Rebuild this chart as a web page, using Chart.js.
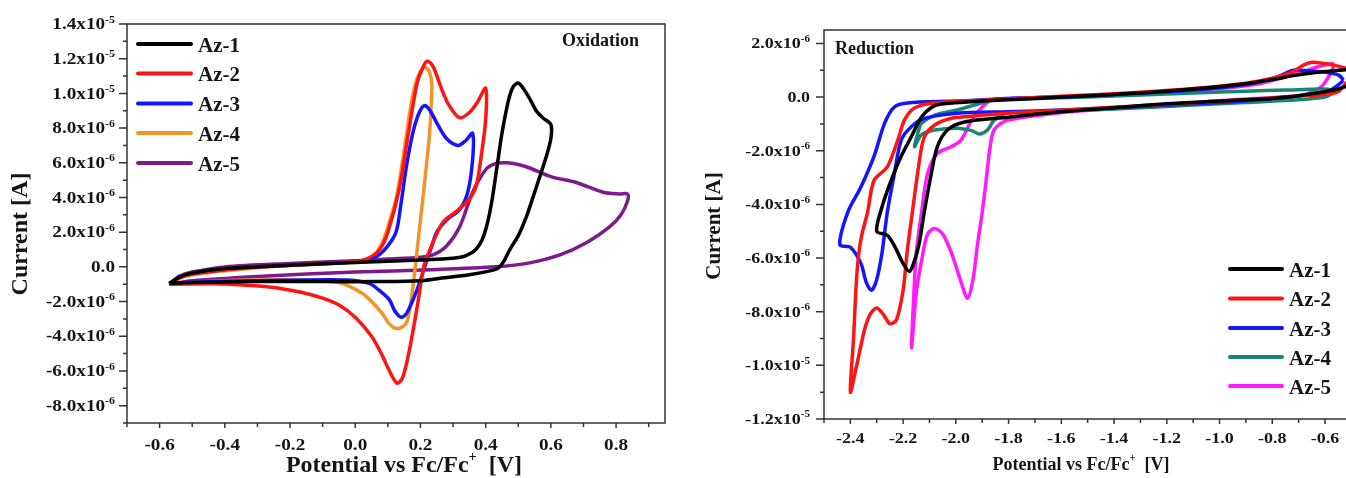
<!DOCTYPE html>
<html>
<head>
<meta charset="utf-8">
<script src="https://cdn.jsdelivr.net/npm/chart.js@4.4.1/dist/chart.umd.min.js"></script>
<style>
html, body { margin: 0; padding: 0; background: #fff; overflow: hidden; }
canvas { position: absolute; top: 0; }
#ox { left: 0; }
#red { left: 680px; }
</style>
</head>
<body>
<canvas id="ox" width="675" height="478"></canvas>
<canvas id="red" width="680" height="478"></canvas>
<script>
// current in µA (x10^-6 A), potential in V vs Fc/Fc+
const names = ['Az-1', 'Az-2', 'Az-3', 'Az-4', 'Az-5'];
const oxColors = ['#000000', '#ff1414', '#1414ff', '#f39425', '#7e1b8c'];
const redColors = ['#000000', '#ff1414', '#1414ff', '#1b8575', '#ff1aff'];

// oxidation scans
const oxAz1 = [[-0.57,-0.95],[-0.54,-0.6],[-0.5,-0.35],[-0.4,-0.1],[-0.2,0.1],[0,0.25],[0.2,0.4],[0.3,0.5],[0.34,0.65],[0.37,1.0],[0.39,1.6],[0.405,2.5],[0.42,3.9],[0.435,5.8],[0.45,7.7],[0.47,9.6],[0.485,10.4],[0.5,10.6],[0.515,10.3],[0.535,9.7],[0.555,9.0],[0.575,8.6],[0.6,8.2],[0.6,7.4],[0.585,6.3],[0.566,5.2],[0.545,4.0],[0.525,2.9],[0.5,1.8],[0.474,1.0],[0.455,0.3],[0.44,-0.05],[0.42,-0.2],[0.35,-0.45],[0.26,-0.65],[0.2,-0.8],[0.07,-0.85],[-0.1,-0.85],[-0.3,-0.85],[-0.5,-0.9],[-0.57,-0.95]];
const oxAz2 = [[-0.57,-1.0],[-0.54,-0.65],[-0.5,-0.4],[-0.4,-0.15],[-0.2,0.1],[0,0.3],[0.04,0.5],[0.075,1.0],[0.1,2.0],[0.135,4.5],[0.163,7.7],[0.19,10.6],[0.21,11.6],[0.222,11.85],[0.24,11.5],[0.26,10.5],[0.285,9.4],[0.32,8.6],[0.35,8.9],[0.375,9.5],[0.4,10.3],[0.4,8.5],[0.385,6.2],[0.37,4.6],[0.345,3.8],[0.31,3.2],[0.27,2.6],[0.245,1.7],[0.225,0.8],[0.21,0],[0.19,-2.3],[0.166,-4.8],[0.145,-6.4],[0.128,-6.7],[0.105,-6.0],[0.08,-5.0],[0.05,-4.0],[0,-2.9],[-0.05,-2.2],[-0.1,-1.8],[-0.17,-1.45],[-0.27,-1.15],[-0.43,-0.98],[-0.57,-1.0]];
const oxAz3 = [[-0.57,-0.95],[-0.54,-0.6],[-0.5,-0.4],[-0.3,0],[0,0.3],[0.06,0.55],[0.095,1.1],[0.125,2.0],[0.14,3.6],[0.157,5.8],[0.175,7.6],[0.19,8.6],[0.205,9.2],[0.215,9.3],[0.23,9.0],[0.25,8.3],[0.28,7.4],[0.315,7.0],[0.34,7.3],[0.36,7.7],[0.36,6.2],[0.345,4.3],[0.32,3.3],[0.28,2.7],[0.25,2.0],[0.235,1.2],[0.22,0.4],[0.19,-1.3],[0.157,-2.7],[0.14,-2.9],[0.12,-2.5],[0.105,-1.9],[0.07,-1.3],[0.043,-0.95],[-0.03,-0.75],[-0.3,-0.8],[-0.5,-0.88],[-0.57,-0.95]];
const oxAz4 = [[-0.57,-1.0],[-0.54,-0.65],[-0.5,-0.45],[-0.3,-0.05],[0,0.3],[0.05,0.5],[0.083,1.4],[0.105,2.6],[0.125,3.9],[0.14,5.5],[0.155,7.35],[0.168,9.0],[0.18,10.2],[0.195,11.1],[0.213,11.5],[0.228,11.2],[0.235,10.5],[0.232,9.0],[0.228,7.7],[0.218,5.8],[0.207,3.9],[0.19,1.0],[0.176,-1.3],[0.16,-3.1],[0.145,-3.45],[0.125,-3.55],[0.105,-3.3],[0.083,-2.7],[0.05,-2.0],[0.02,-1.5],[-0.05,-0.9],[-0.2,-0.75],[-0.4,-0.8],[-0.57,-1.0]];
const oxAz5 = [[-0.57,-1.0],[-0.54,-0.55],[-0.5,-0.3],[-0.4,0],[-0.2,0.2],[0,0.35],[0.1,0.45],[0.2,0.55],[0.24,0.7],[0.28,1.2],[0.32,2.3],[0.36,4.3],[0.4,5.6],[0.43,5.95],[0.465,6.0],[0.5,5.9],[0.535,5.7],[0.6,5.2],[0.68,4.85],[0.76,4.3],[0.81,4.2],[0.835,4.2],[0.835,3.8],[0.815,3.0],[0.78,2.3],[0.71,1.4],[0.63,0.7],[0.535,0.23],[0.43,0],[0.23,-0.17],[0,-0.3],[-0.3,-0.55],[-0.5,-0.8],[-0.57,-1.0]];

// reduction scans
const redAz1 = [[-0.48,0.8],[-0.5,0.5],[-0.55,0.3],[-0.6,0.2],[-0.7,0.05],[-0.8,-0.05],[-1.0,-0.15],[-1.2,-0.25],[-1.4,-0.4],[-1.6,-0.55],[-1.8,-0.75],[-1.967,-0.93],[-2.032,-1.23],[-2.07,-1.85],[-2.093,-2.85],[-2.12,-4.3],[-2.14,-5.5],[-2.157,-6.1],[-2.176,-6.5],[-2.2,-6.2],[-2.23,-5.6],[-2.26,-5.15],[-2.3,-5.0],[-2.28,-4.1],[-2.245,-3.1],[-2.207,-2.2],[-2.17,-1.5],[-2.13,-0.74],[-2.09,-0.37],[-2.055,-0.26],[-1.9,-0.15],[-1.7,-0.05],[-1.5,0.05],[-1.3,0.15],[-1.1,0.3],[-0.9,0.5],[-0.8,0.65],[-0.72,0.8],[-0.65,0.9],[-0.6,0.95],[-0.55,1.0],[-0.48,1.05]];
const redAz2 = [[-0.47,0.9],[-0.52,0.52],[-0.55,0.2],[-0.6,0.1],[-0.69,0.05],[-0.9,-0.1],[-1.07,-0.19],[-1.25,-0.3],[-1.45,-0.41],[-1.65,-0.52],[-1.83,-0.62],[-1.95,-0.72],[-2.02,-0.8],[-2.08,-1.04],[-2.12,-1.5],[-2.14,-2.5],[-2.165,-4.3],[-2.185,-5.8],[-2.2,-7.2],[-2.225,-8.3],[-2.25,-8.45],[-2.275,-8.1],[-2.3,-7.86],[-2.325,-8.1],[-2.347,-8.7],[-2.377,-10.05],[-2.4,-11.0],[-2.388,-9.0],[-2.375,-6.55],[-2.36,-5.3],[-2.335,-4.3],[-2.31,-3.1],[-2.26,-2.6],[-2.22,-1.6],[-2.195,-0.86],[-2.157,-0.41],[-2.09,-0.23],[-1.9,-0.12],[-1.7,-0.02],[-1.5,0.08],[-1.3,0.18],[-1.1,0.32],[-0.9,0.52],[-0.8,0.7],[-0.72,0.95],[-0.68,1.2],[-0.647,1.3],[-0.6,1.25],[-0.567,1.19],[-0.52,1.08],[-0.47,0.95]];
const redAz3 = [[-0.53,0.63],[-0.55,0.45],[-0.58,0.26],[-0.65,0.1],[-0.8,-0.05],[-1.0,-0.2],[-1.2,-0.3],[-1.4,-0.4],[-1.6,-0.48],[-1.8,-0.55],[-1.995,-0.6],[-2.12,-0.8],[-2.168,-1.1],[-2.207,-1.6],[-2.233,-2.85],[-2.26,-4.3],[-2.28,-5.8],[-2.3,-6.8],[-2.32,-7.2],[-2.34,-6.9],[-2.36,-6.2],[-2.4,-5.6],[-2.44,-5.5],[-2.41,-4.3],[-2.36,-3.35],[-2.31,-2.2],[-2.27,-0.97],[-2.233,-0.37],[-2.184,-0.22],[-2.0,-0.15],[-1.8,-0.05],[-1.6,0],[-1.4,0.1],[-1.2,0.2],[-1.0,0.35],[-0.85,0.55],[-0.78,0.75],[-0.72,1.0],[-0.66,0.97],[-0.6,0.93],[-0.548,0.82],[-0.53,0.63]];
const redAz4 = [[-0.57,0.15],[-0.6,0],[-0.7,-0.1],[-0.9,-0.2],[-1.1,-0.3],[-1.3,-0.4],[-1.5,-0.48],[-1.7,-0.55],[-1.78,-0.57],[-1.815,-0.62],[-1.855,-0.86],[-1.88,-1.23],[-1.91,-1.38],[-1.94,-1.25],[-1.995,-1.16],[-2.08,-1.23],[-2.13,-1.4],[-2.157,-1.85],[-2.14,-1.2],[-2.13,-0.97],[-2.08,-0.67],[-1.995,-0.48],[-1.93,-0.3],[-1.865,-0.11],[-1.7,-0.05],[-1.5,0],[-1.3,0.08],[-1.1,0.15],[-0.9,0.22],[-0.75,0.26],[-0.62,0.3],[-0.58,0.28],[-0.57,0.15]];
const redAz5 = [[-0.565,1.25],[-0.575,0.95],[-0.59,0.7],[-0.616,0.37],[-0.69,0.07],[-0.945,-0.1],[-1.15,-0.25],[-1.33,-0.37],[-1.58,-0.56],[-1.7,-0.7],[-1.77,-0.8],[-1.815,-0.9],[-1.855,-1.23],[-1.87,-1.85],[-1.885,-3.1],[-1.9,-4.3],[-1.918,-5.5],[-1.935,-6.8],[-1.956,-7.5],[-1.98,-6.9],[-2.017,-5.8],[-2.05,-5.1],[-2.08,-4.9],[-2.107,-5.1],[-2.13,-6.1],[-2.15,-7.3],[-2.168,-9.35],[-2.16,-7.5],[-2.15,-5.8],[-2.13,-4.3],[-2.107,-2.85],[-2.07,-2.1],[-2.017,-1.85],[-1.98,-1.6],[-1.94,-0.86],[-1.9,-0.37],[-1.865,-0.11],[-1.8,-0.05],[-1.6,0],[-1.4,0.1],[-1.2,0.2],[-1.0,0.32],[-0.85,0.5],[-0.75,0.75],[-0.68,0.95],[-0.62,1.15],[-0.565,1.25]];

// axis ticks
const oxXMajor = [-0.6, -0.4, -0.2, 0, 0.2, 0.4, 0.6, 0.8];
const oxXLabels = ['-0.6', '-0.4', '-0.2', '0.0', '0.2', '0.4', '0.6', '0.8'];
const oxXMinor = [-0.7, -0.5, -0.3, -0.1, 0.1, 0.3, 0.5, 0.7, 0.9];
const oxYMajor = [-8, -6, -4, -2, 0, 2, 4, 6, 8, 10, 12, 14];
const oxYLabels = ['-8.0x10^-6', '-6.0x10^-6', '-4.0x10^-6', '-2.0x10^-6', '0.0', '2.0x10^-6', '4.0x10^-6', '6.0x10^-6', '8.0x10^-6', '1.0x10^-5', '1.2x10^-5', '1.4x10^-5'];
const oxYMinor = [-9, -7, -5, -3, -1, 1, 3, 5, 7, 9, 11, 13];

const redXMajor = [-2.4, -2.2, -2.0, -1.8, -1.6, -1.4, -1.2, -1.0, -0.8, -0.6];
const redXLabels = ['-2.4', '-2.2', '-2.0', '-1.8', '-1.6', '-1.4', '-1.2', '-1.0', '-0.8', '-0.6'];
const redXMinor = [-2.5, -2.3, -2.1, -1.9, -1.7, -1.5, -1.3, -1.1, -0.9, -0.7];
const redYMajor = [-12, -10, -8, -6, -4, -2, 0, 2];
const redYLabels = ['-1.2x10^-5', '-1.0x10^-5', '-8.0x10^-6', '-6.0x10^-6', '-4.0x10^-6', '-2.0x10^-6', '0.0', '2.0x10^-6'];
const redYMinor = [-11, -9, -7, -5, -3, -1, 1];

const FONT = '"Liberation Serif", "Times New Roman", serif';

function text(ctx, s, x, y, size, align, sx) {
    ctx.save();
    ctx.font = 'bold ' + size + 'px ' + FONT;
    ctx.textAlign = align;
    ctx.textBaseline = 'middle';
    ctx.translate(x, y);
    ctx.scale(sx || 1, 1);
    ctx.fillText(s, 0, 0);
    ctx.restore();
}

function textWidth(ctx, s, size, sx) {
    ctx.save();
    ctx.font = 'bold ' + size + 'px ' + FONT;
    const w = ctx.measureText(s).width * (sx || 1);
    ctx.restore();
    return w;
}

// "Potential vs Fc/Fc+ [V]" with a raised plus
function xTitle(ctx, cx, y, size) {
    const a = 'Potential vs Fc/Fc', b = '+', c = '  [V]';
    const wa = textWidth(ctx, a, size), wb = textWidth(ctx, b, size * 0.6), wc = textWidth(ctx, c, size);
    let x = cx - (wa + wb + wc) / 2;
    text(ctx, a, x, y, size, 'left');
    text(ctx, b, x + wa, y - size * 0.38, size * 0.6, 'left');
    text(ctx, c, x + wa + wb, y, size, 'left');
}

function makeFrame(c) {
    return {
        id: 'frame',
        afterDraw(chart) {
            const ctx = chart.ctx, a = chart.chartArea;
            const xs = chart.scales.x, ys = chart.scales.y;
            ctx.save();
            ctx.strokeStyle = '#333';
            ctx.fillStyle = '#151515';
            ctx.lineWidth = 1.5;
            ctx.strokeRect(a.left, a.top, a.right - a.left, a.bottom - a.top);

            ctx.beginPath();
            c.xMajor.forEach(v => { const p = xs.getPixelForValue(v); ctx.moveTo(p, a.bottom); ctx.lineTo(p, a.bottom + 5); });
            c.xMinor.forEach(v => { const p = xs.getPixelForValue(v); ctx.moveTo(p, a.bottom); ctx.lineTo(p, a.bottom + 4); });
            c.yMajor.forEach(v => { const p = ys.getPixelForValue(v); ctx.moveTo(a.left, p); ctx.lineTo(a.left - 8, p); });
            c.yMinor.forEach(v => { const p = ys.getPixelForValue(v); ctx.moveTo(a.left, p); ctx.lineTo(a.left - 4, p); });
            ctx.stroke();

            c.xMajor.forEach((v, i) => text(ctx, c.xLabels[i], xs.getPixelForValue(v), c.xLabelY, c.tick, 'center', 1.2));
            c.yMajor.forEach((v, i) => {
                const parts = c.yLabels[i].split('^');
                const p = ys.getPixelForValue(v);
                let r = c.yLabelX;
                if (parts[1]) {
                    const sup = c.tick * 0.62;
                    const w = textWidth(ctx, parts[1], sup, 1.2);
                    text(ctx, parts[1], r - w, p - 4, sup, 'left', 1.2);
                    r -= w;
                }
                text(ctx, parts[0], r, p + 1, c.tick, 'right', 1.2);
            });

            xTitle(ctx, c.xTitleX, c.xTitleY, c.xTitleSize);
            ctx.save();
            ctx.translate(c.yTitleX, c.yTitleY);
            ctx.rotate(-Math.PI / 2);
            text(ctx, 'Current [A]', 0, 0, c.yTitleSize, 'center');
            ctx.restore();

            text(ctx, c.note, c.noteX, c.noteY, 18, 'left');

            const lg = c.legend;
            chart.data.datasets.forEach((d, i) => {
                ctx.beginPath();
                ctx.strokeStyle = d.borderColor;
                ctx.lineWidth = 4;
                ctx.lineCap = 'round';
                ctx.moveTo(lg.x0, lg.ys[i]);
                ctx.lineTo(lg.x1, lg.ys[i]);
                ctx.stroke();
                text(ctx, d.label, lg.tx, lg.ys[i] + 2.5, 21, 'left');
            });
            ctx.restore();
        }
    };
}

function datasets(series, colors) {
    return series.map((s, i) => ({
        label: names[i],
        data: s.map(p => ({ x: p[0], y: p[1] })),
        showLine: true,
        borderColor: colors[i],
        backgroundColor: colors[i],
        borderWidth: 3.5,
        pointRadius: 0,
        tension: 0.3
    }));
}

function axes(xmin, xmax, ymin, ymax, yWidth, xHeight) {
    return {
        x: {
            type: 'linear', min: xmin, max: xmax,
            ticks: { display: false }, grid: { display: false }, border: { display: false },
            afterFit: s => { s.height = xHeight; }
        },
        y: {
            type: 'linear', min: ymin, max: ymax,
            ticks: { display: false }, grid: { display: false }, border: { display: false },
            afterFit: s => { s.width = yWidth; }
        }
    };
}

new Chart(document.getElementById('ox'), {
    type: 'scatter',
    data: { datasets: datasets([oxAz1, oxAz2, oxAz3, oxAz4, oxAz5], oxColors) },
    options: {
        responsive: false,
        animation: false,
        layout: { padding: { left: 0, top: 24, right: 10, bottom: 0 } },
        scales: axes(-0.7, 0.95, -9, 14, 127, 55),
        plugins: { legend: { display: false }, tooltip: { enabled: false } }
    },
    plugins: [makeFrame({
        xMajor: oxXMajor, xLabels: oxXLabels, xMinor: oxXMinor,
        yMajor: oxYMajor, yLabels: oxYLabels, yMinor: oxYMinor,
        tick: 16, xLabelY: 446, yLabelX: 115,
        xTitleX: 404, xTitleY: 466, xTitleSize: 24,
        yTitleX: 21, yTitleY: 234, yTitleSize: 24,
        note: 'Oxidation', noteX: 562, noteY: 41,
        legend: { x0: 138, x1: 191, tx: 198, ys: [44, 73.5, 103.5, 133, 163] }
    })]
});

new Chart(document.getElementById('red'), {
    type: 'scatter',
    data: { datasets: datasets([redAz1, redAz2, redAz3, redAz4, redAz5], redColors) },
    options: {
        responsive: false,
        animation: false,
        layout: { padding: { left: 0, top: 30, right: 11, bottom: 0 } },
        scales: axes(-2.5, -0.509, -12, 2.5, 144, 59),
        plugins: { legend: { display: false }, tooltip: { enabled: false } }
    },
    plugins: [makeFrame({
        xMajor: redXMajor, xLabels: redXLabels, xMinor: redXMinor,
        yMajor: redYMajor, yLabels: redYLabels, yMinor: redYMinor,
        tick: 15, xLabelY: 439, yLabelX: 130,
        xTitleX: 401, xTitleY: 465, xTitleSize: 18,
        yTitleX: 35, yTitleY: 226, yTitleSize: 21,
        note: 'Reduction', noteX: 155, noteY: 49,
        legend: { x0: 550, x1: 602, tx: 609, ys: [269, 298.5, 328, 357, 386] }
    })]
});
</script>
</body>
</html>
